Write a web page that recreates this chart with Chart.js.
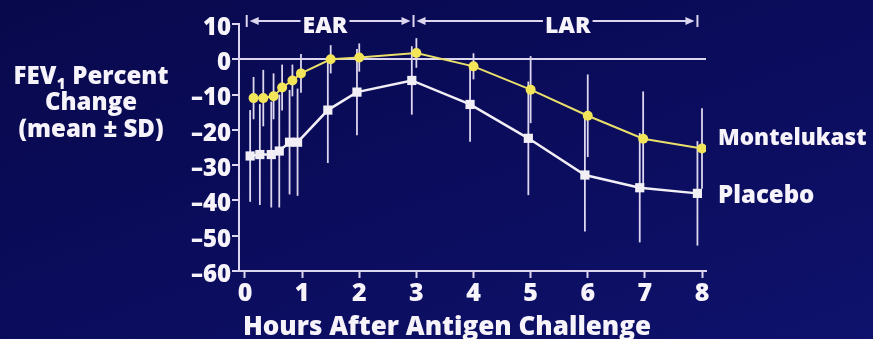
<!DOCTYPE html>
<html>
<head>
<meta charset="utf-8">
<script src="https://cdn.jsdelivr.net/npm/chart.js@4"></script>
<style>
  html, body { margin: 0; padding: 0; }
  body { width: 873px; height: 339px; overflow: hidden;
         background: linear-gradient(160deg, #08094c 0%, #0b0c5c 50%, #0f126c 100%); }
  #wrap { position: relative; width: 873px; height: 339px; }
</style>
</head>
<body>
<div id="wrap"><canvas id="myChart"></canvas></div>
<script>
// hours after challenge (placebo points are drawn slightly offset in the original)
var monteHours = [0.15, 0.32, 0.5, 0.65, 0.83, 0.98, 1.5, 2, 3, 4, 5, 6, 6.97, 8];
var monteMean = [-11, -11, -10.5, -8, -6, -4, 0, 0.5, 1.8, -2, -8.6, -16, -22.5, -25.3];
var monteSD = [6, 8, 6.5, 6.5, 4.5, 5.5, 4, 4, 4.2, 3.7, 9.5, 11.7, 13.4, 11.4];

var placeboHours = [0.09, 0.26, 0.46, 0.6, 0.78, 0.92, 1.45, 1.96, 2.92, 3.94, 4.96, 5.95, 6.91, 7.92];
var placeboMean = [-27.4, -27, -27, -26, -23.5, -23.5, -14.4, -9.3, -6, -12.8, -22.4, -32.8, -36.4, -38];
var placeboSD = [13, 14.3, 15, 16, 14.8, 15.2, 15, 12.2, 9.7, 10.6, 16.1, 16, 15.5, 14.8];

var seriesNames = ["Montelukast", "Placebo"];
var xTicks = [0, 1, 2, 3, 4, 5, 6, 7, 8];
var phaseNames = ["EAR", "LAR"];
var phaseBounds = [0.03, 2.95, 7.92];
var phaseLabelAt = [1.4, 5.65];

var FONT = "'Open Sans'";
var W = 800;
var axisColor = "#dcd6ef";
var textColor = "#f6f3fa";
var yellow = "#e9df6a";
var white = "#f1eff5";

function pts(xs, ys) { return xs.map((h, i) => ({x: h, y: ys[i]})); }
function f(size) { return W + " " + size + "px " + FONT; }

// SD whiskers, drawn under the lines
var errorBars = {
  id: "errorBars",
  beforeDatasetsDraw(chart) {
    var ctx = chart.ctx, x = chart.scales.x, y = chart.scales.y;
    ctx.save();
    ctx.strokeStyle = axisColor;
    ctx.lineWidth = 1.8;
    chart.data.datasets.forEach(ds => {
      ds.data.forEach((p, i) => {
        var px = x.getPixelForValue(p.x);
        ctx.beginPath();
        ctx.moveTo(px, y.getPixelForValue(p.y + ds.sd[i]));
        ctx.lineTo(px, y.getPixelForValue(p.y - ds.sd[i]));
        ctx.stroke();
      });
    });
    ctx.restore();
  }
};

function arrow(ctx, xTip, yy, dir) {
  ctx.beginPath();
  ctx.moveTo(xTip, yy);
  ctx.lineTo(xTip - dir * 9, yy - 4);
  ctx.lineTo(xTip - dir * 9, yy + 4);
  ctx.closePath();
  ctx.fill();
}

var texts = {
  id: "texts",
  afterDraw(chart) {
    var ctx = chart.ctx, x = chart.scales.x;
    ctx.save();
    ctx.fillStyle = textColor;
    ctx.strokeStyle = axisColor;
    ctx.textBaseline = "alphabetic";

    // EAR / LAR brackets
    var by = 21;
    ctx.lineWidth = 2;
    var bx = phaseBounds.map(v => x.getPixelForValue(v));
    bx.forEach(p => { ctx.beginPath(); ctx.moveTo(p, by - 6); ctx.lineTo(p, by + 6); ctx.stroke(); });
    ctx.font = f(23);
    ctx.textAlign = "center";
    for (var k = 0; k < 2; k++) {
      var a = bx[k] + 3, b = bx[k + 1] - 3, mid = x.getPixelForValue(phaseLabelAt[k]);
      var w = ctx.measureText(phaseNames[k]).width;
      ctx.beginPath();
      ctx.moveTo(a + 6, by); ctx.lineTo(mid - w / 2 - 2, by);
      ctx.moveTo(mid + w / 2 + 2, by); ctx.lineTo(b - 6, by);
      ctx.stroke();
      ctx.fillStyle = axisColor;
      arrow(ctx, a, by, -1);
      arrow(ctx, b, by, 1);
      ctx.fillStyle = textColor;
      ctx.fillText(phaseNames[k], mid, 33);
    }

    // y axis title
    var cx = 91;
    ctx.font = f(24);
    var w1 = ctx.measureText("FEV").width, w3 = ctx.measureText(" Percent").width;
    ctx.font = f(15);
    var w2 = ctx.measureText("1").width + 1;
    var sx = cx - (w1 + w2 + w3) / 2;
    ctx.textAlign = "left";
    ctx.font = f(24);
    ctx.fillText("FEV", sx, 84);
    ctx.font = f(15);
    ctx.fillText("1", sx + w1 + 0.5, 89);
    ctx.font = f(24);
    ctx.fillText(" Percent", sx + w1 + w2, 84);
    ctx.textAlign = "center";
    ctx.fillText("Change", cx, 110);
    ctx.fillText("(mean \u00b1 SD)", cx, 137);

    // series labels
    ctx.textAlign = "left";
    ctx.font = f(22.5);
    ctx.fillText(seriesNames[0], 718, 145);
    ctx.font = f(24);
    ctx.fillText(seriesNames[1], 718, 203);

    // x axis title
    ctx.textAlign = "center";
    ctx.font = f(26);
    ctx.fillText("Hours After Antigen Challenge", 447, 335);
    ctx.restore();
  }
};

new Chart("myChart", {
  type: "scatter",
  data: {
    datasets: [{
      label: seriesNames[0],
      data: pts(monteHours, monteMean),
      sd: monteSD,
      showLine: true,
      borderColor: yellow,
      borderWidth: 2,
      backgroundColor: "#f3e559",
      pointStyle: "circle",
      pointRadius: 5,
      pointBorderWidth: 0
    }, {
      label: seriesNames[1],
      data: pts(placeboHours, placeboMean),
      sd: placeboSD,
      showLine: true,
      borderColor: white,
      borderWidth: 2.5,
      backgroundColor: white,
      pointStyle: "rect",
      pointRadius: 6.5,
      pointBorderWidth: 0
    }]
  },
  options: {
    responsive: true,
    maintainAspectRatio: false,
    animation: false,
    layout: {padding: {left: 169, right: 167, top: 24, bottom: 28}},
    plugins: {legend: {display: false}, tooltip: {enabled: false}},
    scales: {
      x: {
        type: "linear",
        min: -0.105,
        max: 8.07,
        afterBuildTicks: s => { s.ticks = xTicks.map(v => ({value: v})); },
        afterFit: s => { s.height = 40; },
        border: {color: axisColor, width: 2},
        grid: {drawOnChartArea: false, tickLength: 7, tickColor: axisColor, tickWidth: 2},
        ticks: {color: textColor, padding: 1, font: {family: "Open Sans", weight: W, size: 25}}
      },
      y: {
        min: -60,
        max: 10,
        afterFit: s => { s.width = 70; },
        border: {color: axisColor, width: 2},
        grid: {
          color: c => c.tick.value === 0 ? axisColor : "transparent",
          lineWidth: 2,
          tickLength: 7,
          tickColor: axisColor,
          tickWidth: 2
        },
        ticks: {
          stepSize: 10,
          color: textColor,
          padding: 1,
          labelOffset: 4,
          font: {family: "Open Sans", weight: W, size: 24},
          callback: v => v < 0 ? "\u2013" + Math.abs(v) : String(v)
        }
      }
    }
  },
  plugins: [errorBars, texts]
});
</script>
</body>
</html>
